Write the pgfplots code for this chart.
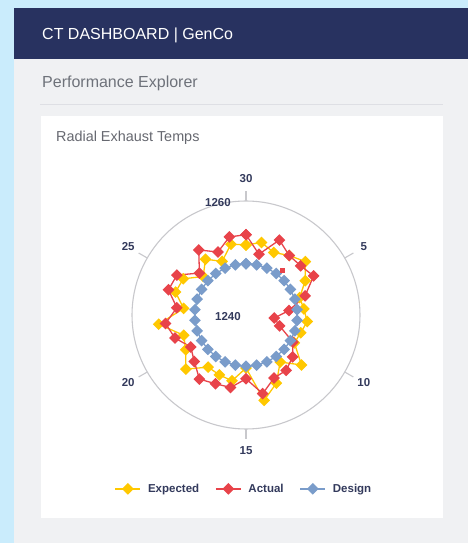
\documentclass[border=0pt]{standalone}
\usepackage{pgfplots}
\usepackage{pgfplotstable}
\pgfplotsset{compat=1.18}
\usepackage{fontspec}
\setmainfont{Liberation Sans}
\definecolor{bgblue}{RGB}{202,236,252}
\definecolor{navy}{RGB}{40,50,96}
\definecolor{panel}{RGB}{240,241,243}
\definecolor{pegray}{RGB}{110,114,122}
\definecolor{sepline}{RGB}{222,223,228}
\definecolor{titlegray}{RGB}{102,104,112}
\definecolor{lblnavy}{RGB}{51,58,92}
\definecolor{circgray}{RGB}{200,200,204}
\definecolor{cyellow}{RGB}{255,200,0}
\definecolor{cred}{RGB}{232,67,74}
\definecolor{cblue}{RGB}{122,156,202}

\pgfplotstableread{
i v
0 1252.3
1 1253.0
2 1252.0
3 1252.9
4 1254.0
5 1252.0
6 1249.9
7 1250.2
8 1250.8
9 1250.1
10 1249.8
11 1253.1
12 1250.2
13 1253.1
14 1255.3
15 1249.3
16 1251.8
17 1251.5
18 1251.3
19 1254.2
20 1252.2
21 1251.5
22 1255.4
23 1251.0
24 1253.0
25 1252.7
26 1250.1
27 1252.1
28 1250.3
29 1252.7
30 1252.3
}\expected

\pgfplotstableread{
i v
0 1254.1
1 1250.9
2 1254.4
3 1252.9
4 1252.9
5 1253.7
6 1250.9
7 1247.6
8 1245.0
9 1246.2
10 1249.5
11 1251.0
12 1252.0
13 1252.1
14 1254.1
15 1251.2
16 1253.0
17 1253.2
18 1253.9
19 1252.2
20 1251.2
21 1253.1
22 1254.2
23 1252.2
24 1254.3
25 1254.0
26 1251.0
27 1254.1
28 1252.1
29 1254.0
30 1254.1
}\actual

\pgfplotstableread{
i v
0 1249.0
1 1249.0
2 1249.0
3 1249.0
4 1249.0
5 1249.0
6 1249.0
7 1249.0
8 1249.0
9 1249.0
10 1249.0
11 1249.0
12 1249.0
13 1249.0
14 1249.0
15 1249.0
16 1249.0
17 1249.0
18 1249.0
19 1249.0
20 1249.0
21 1249.0
22 1249.0
23 1249.0
24 1249.0
25 1249.0
26 1249.0
27 1249.0
28 1249.0
29 1249.0
30 1249.0
}\design

\pgfplotstableread{
i v
3.27 1250.1
}\lone

\begin{document}
\begin{tikzpicture}[x=1pt,y=1pt]
\useasboundingbox (0,0) rectangle (468,543);
\fill[bgblue] (0,0) rectangle (468,543);
\fill[panel] (13.5,0) rectangle (468,484);
\fill[navy] (13.5,484) rectangle (468,535);
\node[anchor=base west, text=white, font=\fontsize{16}{18}\selectfont, inner sep=0] at (42,503) {CT DASHBOARD | GenCo};
\node[anchor=base west, text=pegray, font=\fontsize{16}{18}\selectfont, inner sep=0] at (42,455) {Performance Explorer};
\draw[sepline, line width=0.8] (40,439) -- (443,439);
\fill[white] (40.7,24.7) rectangle (443.3,427.3);
\node[anchor=base west, text=titlegray, font=\fontsize{14.4}{16}\selectfont, inner sep=0] at (56,401.5) {Radial Exhaust Temps};

\begin{scope}[shift={(246,228)}]
\draw[circgray, line width=1.1] (0,0) circle[radius=114];
\foreach \a/\l in {90/30, 30/5, -30/10, -90/15, -150/20, 150/25} {
  \draw[circgray, line width=1.1] (\a:114) -- (\a:124);
  \node[text=lblnavy, font=\fontsize{11.5}{13}\selectfont\bfseries, inner sep=0] at (\a:136) {\l};
}
\node[text=lblnavy, font=\fontsize{11.5}{13}\selectfont\bfseries, inner sep=0] at (-28,112) {1260};
\node[text=lblnavy, font=\fontsize{11.5}{13}\selectfont\bfseries, inner sep=0] at (-18,-2) {1240};
\end{scope}

\begin{axis}[
  at={(103.5pt,85.5pt)}, anchor=south west,
  scale only axis, width=285pt, height=285pt,
  xmin=-25, xmax=25, ymin=-25, ymax=25,
  hide axis, clip=false,
  legend columns=3,
  legend style={at={(0.493,-0.11)}, anchor=center, draw=none, fill=none,
    font=\fontsize{11.5}{13}\selectfont\bfseries, text=lblnavy,
    /tikz/every odd column/.append style={column sep=5pt},
    /tikz/every even column/.append style={column sep=14pt}},
  legend image code/.code={\draw[mark repeat=2,mark phase=2,#1] plot coordinates {(0pt,0pt) (12.5pt,0pt) (25pt,0pt)};},
]
\addplot[cyellow, line width=1.3pt, mark=square*, mark size=3.5pt, mark options={rotate=45, solid, fill=cyellow, draw=cyellow}]
  table[x expr={(\thisrow{v}-1240)*sin(12*\thisrow{i})}, y expr={(\thisrow{v}-1240)*cos(12*\thisrow{i})}] {\expected};
\addlegendentry{Expected}
\addplot[cred, line width=1.3pt, mark=square*, mark size=3.5pt, mark options={rotate=45, solid, fill=cred, draw=cred}]
  table[x expr={(\thisrow{v}-1240)*sin(12*\thisrow{i})}, y expr={(\thisrow{v}-1240)*cos(12*\thisrow{i})}] {\actual};
\addlegendentry{Actual}
\addplot[cblue, line width=1.3pt, mark=square*, mark size=3.5pt, mark options={rotate=45, solid, fill=cblue, draw=cblue}]
  table[x expr={(\thisrow{v}-1240)*sin(12*\thisrow{i})}, y expr={(\thisrow{v}-1240)*cos(12*\thisrow{i})}] {\design};
\addlegendentry{Design}
\addplot[only marks, mark=square*, mark size=2.2pt, cred, forget plot]
  table[x expr={(\thisrow{v}-1240)*sin(12*\thisrow{i})}, y expr={(\thisrow{v}-1240)*cos(12*\thisrow{i})}] {\lone};
\end{axis}
\end{tikzpicture}
\end{document}
